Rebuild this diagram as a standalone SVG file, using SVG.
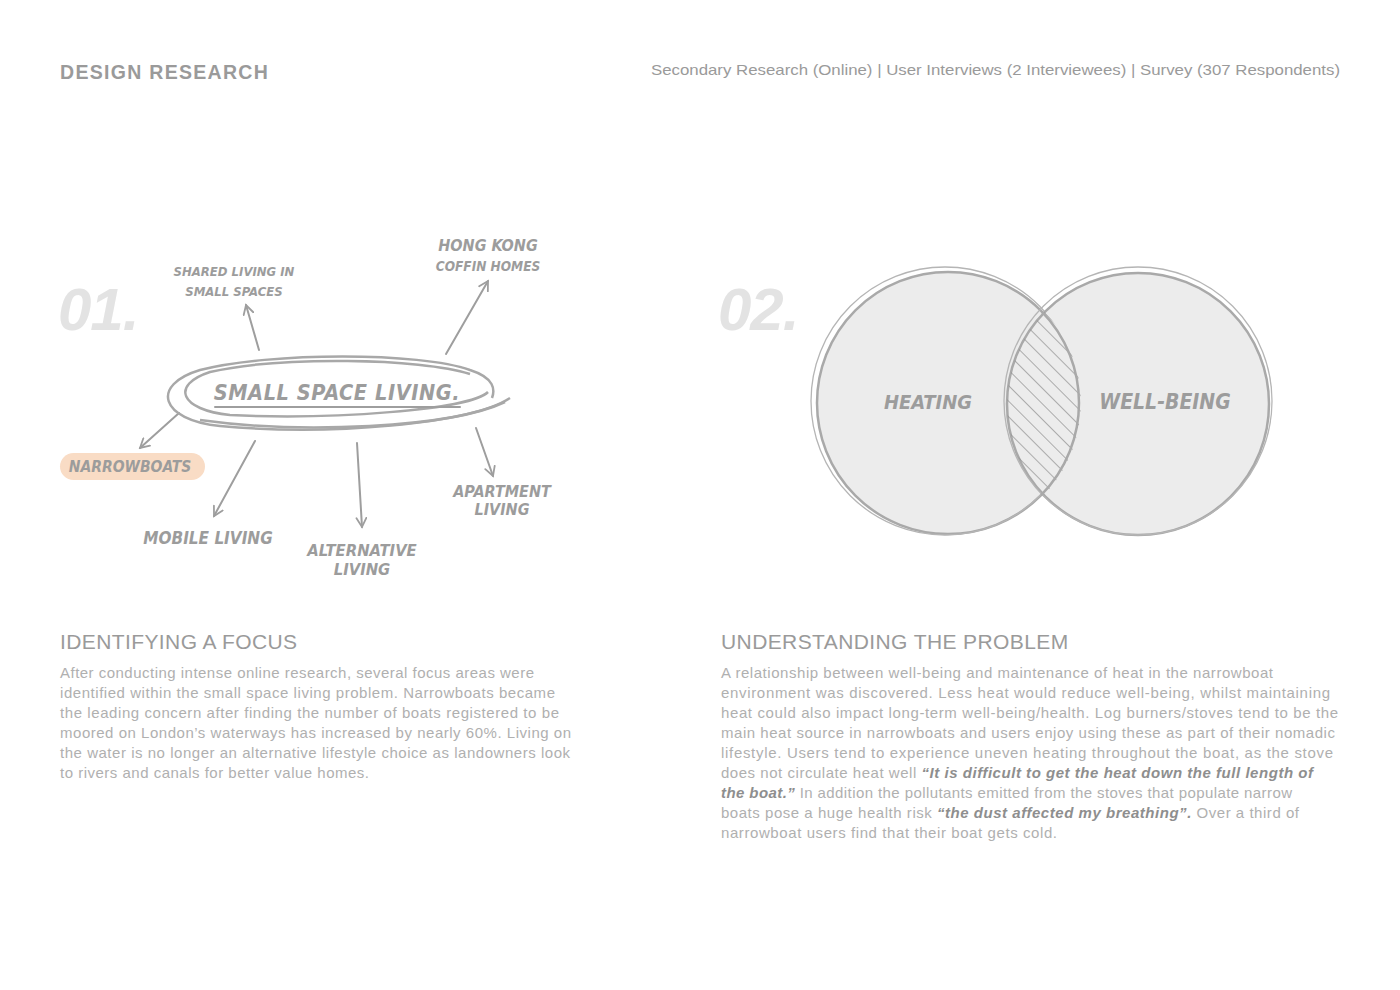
<svg xmlns="http://www.w3.org/2000/svg" width="1400" height="990" viewBox="0 0 1400 990">
<defs>
<style>
.hdr{font-family:"Liberation Sans",Arial,sans-serif;fill:#9a9a9a}
.num{font-family:"Liberation Sans",Arial,sans-serif;font-weight:bold;font-style:italic;fill:#e3e3e3;font-size:60px;letter-spacing:-1px}
.sk{font-family:"DejaVu Sans Condensed","DejaVu Sans",sans-serif;font-weight:bold;font-style:italic;fill:#9c9c9c;text-anchor:middle}
.h2{font-family:"Liberation Sans",Arial,sans-serif;fill:#9a9a9a;font-size:21px;letter-spacing:0.4px}
.body{font-family:"Liberation Sans",Arial,sans-serif;fill:#b0b0b0;font-size:15px}
.q{font-weight:bold;font-style:italic;fill:#8e8e8e}
.ln{fill:none;stroke:#9e9e9e;stroke-width:2;stroke-linecap:round}
.ring{fill:none;stroke:#a8a8a8;stroke-width:2.5}
.circ{fill:#ececec;stroke:#a9a9a9;stroke-width:2.5}
.circ2{fill:none;stroke:#b5b5b5;stroke-width:1.3}
</style>
<marker id="arr" viewBox="0 0 12 12" refX="10" refY="6" markerWidth="12" markerHeight="12" markerUnits="userSpaceOnUse" orient="auto">
<path d="M1 1 L10 6 L1 11" fill="none" stroke="#9e9e9e" stroke-width="1.8" stroke-linecap="round"/>
</marker>
<clipPath id="lensL"><circle cx="948" cy="403" r="133"/></clipPath>
<clipPath id="lensR"><circle cx="1138" cy="404" r="133"/></clipPath>
<pattern id="hatch" patternUnits="userSpaceOnUse" width="11" height="11" patternTransform="rotate(-45)">
<line x1="0" y1="0" x2="0" y2="11" stroke="#8f8f8f" stroke-width="1.4"/>
</pattern>
</defs>
<rect width="1400" height="990" fill="#ffffff"/>

<g id="header">
<text class="hdr" x="60" y="79" font-size="19.5" font-weight="bold" letter-spacing="1.3">DESIGN RESEARCH</text>
<text class="hdr" x="1340" y="75" font-size="15" text-anchor="end" textLength="689" lengthAdjust="spacingAndGlyphs">Secondary Research (Online) | User Interviews (2 Interviewees) | Survey (307 Respondents)</text>
</g>

<text class="num" x="58" y="330">01.</text>
<text class="num" x="718" y="330">02.</text>

<g id="connectors">
<line class="ln" x1="259" y1="350" x2="246" y2="305" marker-end="url(#arr)"/>
<line class="ln" x1="446" y1="354" x2="488" y2="281" marker-end="url(#arr)"/>
<line class="ln" x1="179" y1="413" x2="140" y2="448" marker-end="url(#arr)"/>
<line class="ln" x1="255" y1="441" x2="214" y2="516" marker-end="url(#arr)"/>
<line class="ln" x1="357" y1="443" x2="362" y2="527" marker-end="url(#arr)"/>
<line class="ln" x1="476" y1="428" x2="493" y2="476" marker-end="url(#arr)"/>
</g>

<g id="center-node">
<path class="ring" d="M510 398 C470 424 330 436 220 426 C160 420 150 385 200 370 C270 352 420 352 470 370 C495 378 495 390 492 398"/>
<path class="ring" stroke-width="2" d="M488 392 C470 410 330 420 230 415 C180 410 170 385 210 372 C280 356 420 358 470 374"/>
<path class="ring" stroke-width="1.5" d="M505 402 C450 428 300 434 200 420"/>
<text class="sk" x="337" y="400" font-size="21.5" letter-spacing="0.6">SMALL SPACE LIVING.</text>
<line class="ln" x1="215" y1="407" x2="460" y2="407" stroke-width="2.5"/>
</g>

<g id="n-shared"><text class="sk" font-size="13" x="234" y="276">SHARED LIVING IN</text><text class="sk" font-size="13" x="234" y="296">SMALL SPACES</text></g>
<g id="n-hongkong"><text class="sk" font-size="16" x="488" y="251">HONG KONG</text><text class="sk" font-size="13.5" x="488" y="271">COFFIN HOMES</text></g>
<g id="n-narrowboats"><rect x="60" y="453" width="145" height="27" rx="13.5" fill="#f9dcc5"/><text class="sk" font-size="15.5" x="130" y="472">NARROWBOATS</text></g>
<g id="n-mobile"><text class="sk" font-size="17" x="208" y="544">MOBILE LIVING</text></g>
<g id="n-alternative"><text class="sk" font-size="16.5" x="362" y="556">ALTERNATIVE</text><text class="sk" font-size="16.5" x="362" y="575">LIVING</text></g>
<g id="n-apartment"><text class="sk" font-size="16" x="502" y="497">APARTMENT</text><text class="sk" font-size="16" x="502" y="515">LIVING</text></g>

<g id="venn-heating">
<circle class="circ" cx="948" cy="403" r="131"/>
<circle class="circ2" cx="945" cy="401" r="134"/>
<text class="sk" font-size="20" x="928" y="409">HEATING</text>
</g>
<g id="venn-wellbeing">
<circle class="circ" cx="1138" cy="404" r="131"/>
<circle class="circ2" cx="1138" cy="401" r="134"/>
<circle cx="1138" cy="404" r="131" fill="url(#hatch)" clip-path="url(#lensL)"/>
<circle cx="948" cy="403" r="131" fill="none" stroke="#a9a9a9" stroke-width="2.5" clip-path="url(#lensR)"/>
<text class="sk" font-size="21" x="1165" y="409">WELL-BEING</text>
</g>

<g id="text-left">
<text class="h2" x="60" y="649">IDENTIFYING A FOCUS</text>
<text class="body" x="60" y="678" textLength="474">After conducting intense online research, several focus areas were</text>
<text class="body" x="60" y="698" textLength="495">identified within the small space living problem. Narrowboats became</text>
<text class="body" x="60" y="718" textLength="499">the leading concern after finding the number of boats registered to be</text>
<text class="body" x="60" y="738" textLength="511">moored on London’s waterways has increased by nearly 60%. Living on</text>
<text class="body" x="60" y="758" textLength="510">the water is no longer an alternative lifestyle choice as landowners look</text>
<text class="body" x="60" y="778" textLength="309">to rivers and canals for better value homes.</text>
</g>

<g id="text-right">
<text class="h2" x="721" y="649">UNDERSTANDING THE PROBLEM</text>
<text class="body" x="721" y="678" textLength="552">A relationship between well-being and maintenance of heat in the narrowboat</text>
<text class="body" x="721" y="698" textLength="609">environment was discovered. Less heat would reduce well-being, whilst maintaining</text>
<text class="body" x="721" y="718" textLength="617">heat could also impact long-term well-being/health. Log burners/stoves tend to be the</text>
<text class="body" x="721" y="738" textLength="614">main heat source in narrowboats and users enjoy using these as part of their nomadic</text>
<text class="body" x="721" y="758" textLength="612">lifestyle. Users tend to experience uneven heating throughout the boat, as the stove</text>
<text class="body" x="721" y="778" textLength="592">does not circulate heat well <tspan class="q">“It is difficult to get the heat down the full length of</tspan></text>
<text class="body" x="721" y="798" textLength="571"><tspan class="q">the boat.”</tspan> In addition the pollutants emitted from the stoves that populate narrow</text>
<text class="body" x="721" y="818" textLength="578">boats pose a huge health risk <tspan class="q">“the dust affected my breathing”.</tspan> Over a third of</text>
<text class="body" x="721" y="838" textLength="336">narrowboat users find that their boat gets cold.</text>
</g>
</svg>
